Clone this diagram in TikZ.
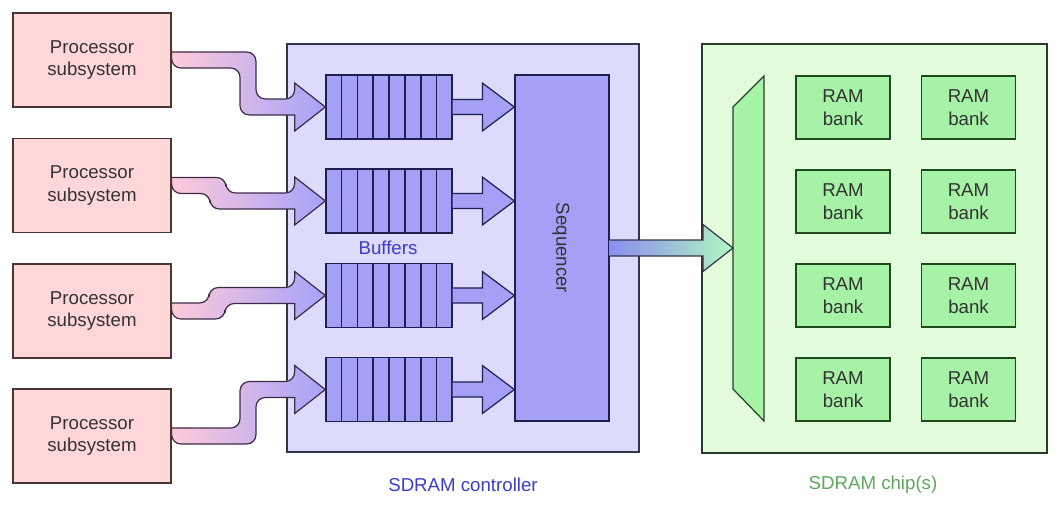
\documentclass[tikz,border=0pt]{standalone}
\usepackage{fontspec}
\setmainfont{Liberation Sans}
\usetikzlibrary{calc}
\definecolor{procfill}{HTML}{FFD7D8}
\definecolor{procedge}{HTML}{4A3434}
\definecolor{ctrlfill}{HTML}{DCDBFB}
\definecolor{ctrledge}{HTML}{34344A}
\definecolor{buffill}{HTML}{A3A0F5}
\definecolor{bufedge}{HTML}{1E1E50}
\definecolor{chipfill}{HTML}{E2FCDC}
\definecolor{chipedge}{HTML}{263E26}
\definecolor{ramfill}{HTML}{A6F2A6}
\definecolor{ramedge}{HTML}{1E4A1E}
\definecolor{pipepink}{HTML}{FFCADB}
\definecolor{pipepurple}{HTML}{A6A2FA}
\definecolor{pipeedge}{HTML}{3C2C48}
\definecolor{seqpurple}{HTML}{8C8CF0}
\definecolor{midblue}{HTML}{A2CCF2}
\definecolor{arrgreen}{HTML}{B0F8C0}
\definecolor{bluetext}{HTML}{3C3CC8}
\definecolor{greentext}{HTML}{5CA85C}
\definecolor{boxtext}{HTML}{333333}
\newcommand\mytext{\fontsize{14}{17}\selectfont}
\newcommand\pipe[4]{%
\path[pipestyle] let \p1=(#1.east), \p2=(#2.west), \p3=(#3,0) in
 (\x1,\y1+6pt) -- (\x3+#4*6pt,\y1+6pt) -- (\x3+#4*6pt,\y2+6pt) -- (\x2-23pt,\y2+6pt)
 [sharp corners] -- (\x2-23pt,\y2+18pt) -- (\x2,\y2) -- (\x2-23pt,\y2-18pt) -- (\x2-23pt,\y2-6pt)
 [rounded corners=7pt] -- (\x3-#4*6pt,\y2-6pt) -- (\x3-#4*6pt,\y1-6pt) -- (\x1,\y1-6pt)
 [sharp corners] -- cycle;}
\newcommand\bufarrow[2]{%
\path[bufarr] let \p1=(#1.east), \p2=(#2.west) in
 (\x1,\y1+5.6pt) -- (\x2-24pt,\y1+5.6pt) -- (\x2-24pt,\y1+18pt) -- (\x2,\y1)
 -- (\x2-24pt,\y1-18pt) -- (\x2-24pt,\y1-5.6pt) -- (\x1,\y1-5.6pt);}
\newcommand\cells[1]{%
\foreach \i in {1,...,7}{\draw[bufedge, line width=1pt] ($(#1.north west)!\i/8!(#1.north east)$) -- ($(#1.south west)!\i/8!(#1.south east)$);}}
\begin{document}
\begin{tikzpicture}[x=0.75pt,y=-0.75pt,
  every node/.style={font=\mytext},
  procbox/.style={draw=procedge, fill=procfill, line width=0.9pt, text=boxtext, align=center, minimum width=118.5pt, minimum height=70.5pt, inner sep=0pt},
  ctrlbox/.style={draw=ctrledge, fill=ctrlfill, line width=0.9pt, minimum width=264pt, minimum height=306pt, inner sep=0pt},
  chipbox/.style={draw=chipedge, fill=chipfill, line width=0.9pt, minimum width=258.75pt, minimum height=306.75pt, inner sep=0pt},
  bufbox/.style={draw=bufedge, fill=buffill, line width=1pt, minimum width=94.5pt, minimum height=48pt, inner sep=0pt},
  seqbox/.style={draw=bufedge, fill=buffill, line width=0.9pt, minimum width=70.5pt, minimum height=259.5pt, inner sep=0pt},
  rambox/.style={draw=ramedge, fill=ramfill, line width=0.9pt, text=boxtext, align=center, minimum width=70.5pt, minimum height=47.25pt, inner sep=0pt},
  pipestyle/.style={draw=pipeedge, line width=0.9pt, left color=pipepink, right color=pipepurple, rounded corners=7pt},
  bufarr/.style={draw=bufedge, fill=buffill, line width=0.9pt},
  muxstyle/.style={draw=chipedge, fill=ramfill, line width=0.9pt}]
\useasboundingbox (0,0) rectangle (1058,507);
% backgrounds
\node[ctrlbox] (ctrl) at (463,248) {};
\node[chipbox] (chip) at (874.5,248.5) {};
% multiplexer
\coordinate (m1) at (733,107);
\coordinate (m2) at (764,76);
\coordinate (m3) at (764,421);
\coordinate (m4) at (733,389);
\coordinate (muxin) at (733,248);
\draw[muxstyle] (m1) -- (m2) -- (m3) -- (m4) -- cycle;
% RAM banks
\foreach \r/\y in {1/107.5,2/201.5,3/295.5,4/389.5}{
  \node[rambox] (ra\r) at (843,\y) {RAM\\bank};
  \node[rambox] (rb\r) at (968.5,\y) {RAM\\bank};
}
% buffers
\node[bufbox] (b1) at (389,107) {};
\node[bufbox] (b2) at (389,201) {};
\node[bufbox] (b3) at (389,295.5) {};
\node[bufbox] (b4) at (389,389.5) {};
\foreach \k in {1,...,4}{\cells{b\k}}
% sequencer
\node[seqbox] (seq) at (562,248) {};
\node[rotate=-90, text=boxtext] (seqlab) at (561,248) {Sequencer};
% processor boxes
\node[procbox] (p1) at (92,60) {Processor\\subsystem};
\node[procbox] (p2) at (92,185.5) {Processor\\subsystem};
\node[procbox] (p3) at (92,311) {Processor\\subsystem};
\node[procbox] (p4) at (92,436) {Processor\\subsystem};
% pipes
\pipe{p1}{b1}{248}{1}
\pipe{p2}{b2}{218}{1}
\pipe{p3}{b3}{217}{-1}
\pipe{p4}{b4}{248}{-1}
% redraw processor borders over pipe ends
\foreach \k in {1,...,4}{\draw[procedge, line width=0.9pt] (p\k.north east) -- (p\k.south east);}
% buffer to sequencer
\foreach \k in {1,...,4}{\bufarrow{b\k}{seq}}
% sequencer to chip
\path[draw=ctrledge, line width=0.9pt, left color=seqpurple, middle color=midblue, right color=arrgreen]
  let \p1=(seq.east), \p2=(muxin) in
  (\x1,\y1+6pt) -- (\x2-22.5pt,\y1+6pt) -- (\x2-22.5pt,\y1+17.6pt) -- (\x2,\y2)
  -- (\x2-22.5pt,\y1-17.6pt) -- (\x2-22.5pt,\y1-6pt) -- (\x1,\y1-6pt);
% labels
\node[text=bluetext] (buflab) at (388,248) {Buffers};
\node[text=bluetext] (ctrllab) at (463,485) {SDRAM controller};
\node[text=greentext] (chiplab) at (873,485) {SDRAM chip(s)};
\end{tikzpicture}
\end{document}
